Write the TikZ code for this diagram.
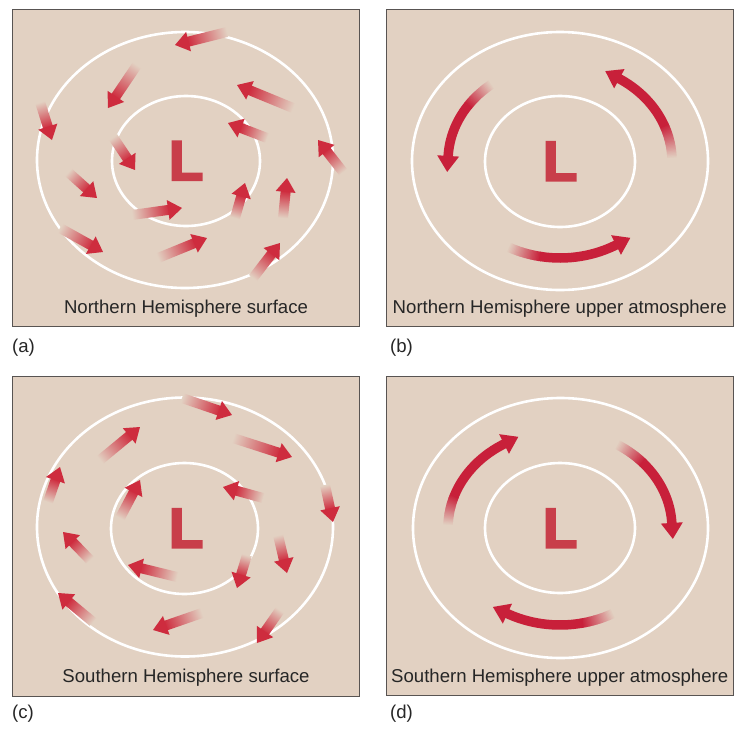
\documentclass[tikz,border=0pt]{standalone}
\usepackage{fontspec}
\setmainfont{Liberation Sans}
\newfontface\lowface{Liberation Sans Bold}[FakeBold=4]
\usetikzlibrary{calc}

\definecolor{paper}{RGB}{226,209,194}
\definecolor{windred}{RGB}{200,32,58}
\definecolor{gustred}{RGB}{206,44,62}
\definecolor{lowfill}{RGB}{200,62,74}
\definecolor{frame}{RGB}{88,84,82}
\definecolor{ink}{RGB}{38,38,38}

\tikzset{
  panel/.style={fill=paper, draw=frame, line width=0.9},
  isobar/.style={draw=white, line width=2.6},
  caption/.style={font=\fontsize{18.6}{20}\selectfont, text=ink, anchor=base, inner sep=0},
  tag/.style={font=\fontsize{18.6}{20}\selectfont, text=ink, anchor=base west, inner sep=0},
  lowmark/.style={font=\lowface\fontsize{56}{60}\selectfont, text=lowfill, anchor=base, inner sep=0},
  swirlline/.style={line width=9.5, line cap=butt},
}

% straight surface wind arrow: tail x, tail y, tip x, tip y
\newcommand{\windarrow}[4]{%
  \pgfmathsetmacro{\wang}{atan2(#2-#4,#3-#1)}%
  \pgfmathsetmacro{\wlen}{veclen(#3-#1,#4-#2)}%
  \pgfmathsetmacro{\wbase}{\wlen-14}%
  \begin{scope}[transform canvas={shift={(#1,#2)}, rotate=\wang}]
    \shade[left color=paper, right color=gustred] (0,-5) rectangle (\wbase+1,5);
    \fill[gustred] (\wbase,-10) -- (\wlen,0) -- (\wbase,10) -- cycle;
  \end{scope}}

% curved upper-level arrow along an ellipse:
% centre x, centre y, x radius, y radius, tail angle, head-base angle, faded share
\newcommand{\swirl}[7]{%
  \pgfmathsetmacro{\sfade}{#5+(#6-#5)*#7}%
  \foreach \k in {0,...,23}{%
    \pgfmathsetmacro{\sa}{#5+(\sfade-#5)*\k/24}%
    \pgfmathsetmacro{\sb}{#5+(\sfade-#5)*(\k+1.4)/24}%
    \pgfmathtruncatemacro{\sp}{100*(\k+1)/24}%
    \draw[windred!\sp!paper, swirlline] ([shift={(#1,#2)}]\sa:#3 and #4)
      arc[start angle=\sa, end angle=\sb, x radius=#3, y radius=#4];
  }%
  \pgfmathsetmacro{\sgn}{sign(#6-#5)}%
  \pgfmathsetmacro{\send}{#6+\sgn*1.2}%
  \draw[windred, swirlline] ([shift={(#1,#2)}]\sfade:#3 and #4)
    arc[start angle=\sfade, end angle=\send, x radius=#3, y radius=#4];
  \pgfmathsetmacro{\hx}{#1+#3*cos(#6)}%
  \pgfmathsetmacro{\hy}{#2+#4*sin(#6)}%
  \pgfmathsetmacro{\hang}{atan2(-\sgn*#4*cos(#6), -\sgn*#3*sin(#6))}%
  \fill[windred, transform canvas={shift={(\hx,\hy)}, rotate=\hang}]
    (0,-11) -- (16,0) -- (0,11) -- cycle;
}

\begin{document}
\begin{tikzpicture}[x=1pt, y=-1pt]
\useasboundingbox (0,0) rectangle (734,729);

% ---- panels ----
\draw[panel] (12.7,9.3) rectangle (359,326);
\draw[panel] (386.7,9.3) rectangle (733,326);
\draw[panel] (12.7,376.7) rectangle (359,696);
\draw[panel] (386.7,376.7) rectangle (733,695);

% ---- isobars ----
\draw[isobar] (185,160) ellipse [x radius=148, y radius=128];
\draw[isobar] (186,161) ellipse [x radius=74, y radius=65];
\draw[isobar] (560,161) ellipse [x radius=148, y radius=129];
\draw[isobar] (560,161.5) ellipse [x radius=75, y radius=65.5];
\draw[isobar] (185,527) ellipse [x radius=148, y radius=129.5];
\draw[isobar] (184.5,528.5) ellipse [x radius=73.5, y radius=65.5];
\draw[isobar] (560.5,528) ellipse [x radius=147.5, y radius=130];
\draw[isobar] (560,528) ellipse [x radius=75, y radius=65];

% ---- low-pressure centres ----
\node[lowmark] (lowA) at (186,180) {L};
\node[lowmark] (lowB) at (560,180.5) {L};
\node[lowmark] (lowC) at (186,547.5) {L};
\node[lowmark] (lowD) at (560,547.5) {L};

% ---- (a) northern hemisphere surface winds ----
\windarrow{227}{32}{175}{45}
\windarrow{137}{65}{108}{108}
\windarrow{40}{102}{52}{140}
\windarrow{293}{108}{237}{85}
\windarrow{113}{137}{135}{170}
\windarrow{267}{138}{228}{123}
\windarrow{343}{172}{318}{140}
\windarrow{68}{172}{97}{198}
\windarrow{132}{215}{182}{208}
\windarrow{235}{218}{245}{183}
\windarrow{283}{218}{287}{178}
\windarrow{60}{228}{103}{252}
\windarrow{158}{258}{207}{238}
\windarrow{253}{278}{280}{243}

% ---- (b) northern hemisphere upper atmosphere ----
\swirl{560}{161}{112}{97}{232}{183}{0.35}
\swirl{560}{161}{112}{97}{358}{302}{0.35}
\swirl{560}{161}{112}{97}{117}{60}{0.3}

% ---- (c) southern hemisphere surface winds ----
\windarrow{182}{398}{232}{415}
\windarrow{233}{438}{292}{457}
\windarrow{100}{460}{140}{427}
\windarrow{48}{502}{60}{467}
\windarrow{120}{518}{140}{480}
\windarrow{263}{498}{223}{487}
\windarrow{325}{485}{333}{522}
\windarrow{90}{560}{63}{532}
\windarrow{177}{577}{128}{565}
\windarrow{247}{555}{237}{588}
\windarrow{278}{535}{287}{573}
\windarrow{93}{622}{58}{593}
\windarrow{202}{613}{153}{630}
\windarrow{280}{610}{257}{643}

% ---- (d) southern hemisphere upper atmosphere ----
\swirl{560}{528}{112}{97}{182}{240}{0.3}
\swirl{560}{528}{112}{97}{301}{357}{0.3}
\swirl{560}{528}{112}{97}{62}{118}{0.3}

% ---- captions ----
\node[caption] (capA) at (186,313.3) {Northern Hemisphere surface};
\node[caption] (capB) at (559.7,313.3) {Northern Hemisphere upper atmosphere};
\node[caption] (capC) at (186,682) {Southern Hemisphere surface};
\node[caption] (capD) at (559.7,682) {Southern Hemisphere upper atmosphere};

\node[tag] (tagA) at (12,352) {(a)};
\node[tag] (tagB) at (390,352) {(b)};
\node[tag] (tagC) at (12,718) {(c)};
\node[tag] (tagD) at (390,718) {(d)};
\end{tikzpicture}
\end{document}
